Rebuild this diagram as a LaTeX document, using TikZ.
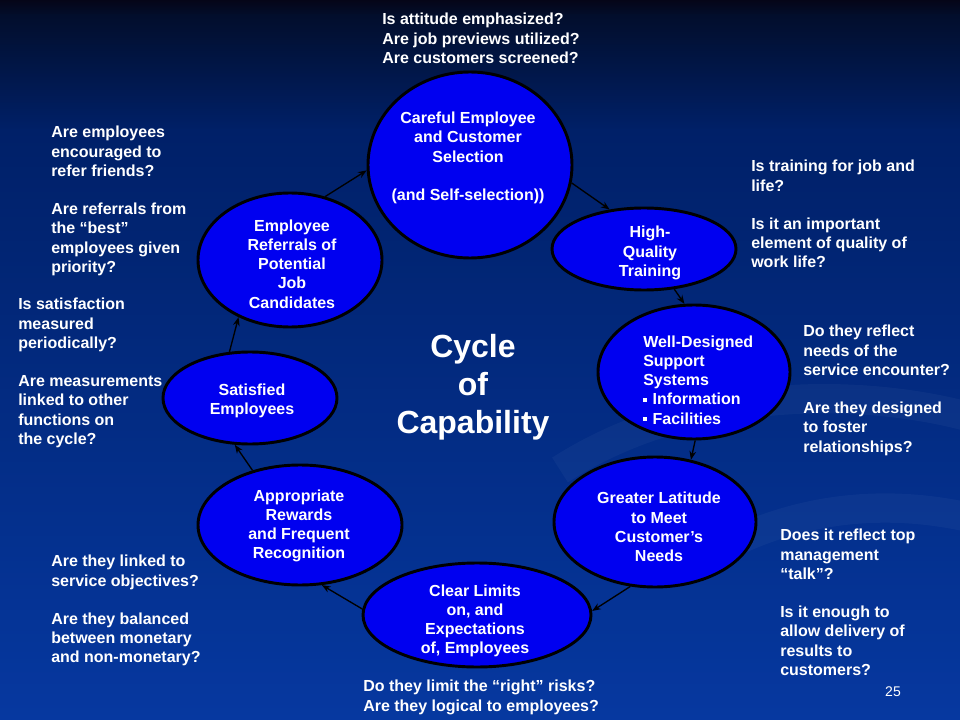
\documentclass[tikz,border=0pt]{standalone}
\usepackage{fontspec}
\setmainfont{Liberation Sans}
\usetikzlibrary{shapes.geometric,arrows.meta}
\definecolor{ellblue}{RGB}{0,0,240}
\definecolor{bga}{RGB}{5,5,24}
\definecolor{bgb}{RGB}{2,14,44}
\definecolor{bgc}{RGB}{0,32,104}
\definecolor{bgd}{RGB}{6,56,160}
\newcommand\sqbul{\raisebox{2.4pt}{\rule{3pt}{3pt}}\hspace{4pt}}
\begin{document}
\begin{tikzpicture}[x=0.75pt,y=-0.75pt,
  ell/.style={ellipse, draw=black, line width=2.2pt, fill=ellblue, inner sep=0pt},
  esize/.style 2 args={minimum width=#1*0.75pt, minimum height=#2*0.75pt},
  etext/.style={text=white, font=\fontsize{12}{14.4}\selectfont\bfseries, align=center, inner sep=0pt},
  qtext/.style={text=white, font=\fontsize{12}{14.4}\selectfont\bfseries, align=left, inner sep=0pt, anchor=north west},
  conn/.style={line width=1pt, black, -{Stealth[length=6.5pt,width=5pt]}},
  swoosh/.style={white, opacity=0.035, line width=22pt}]
\useasboundingbox (0,0) rectangle (960,720);
% background
\shade[top color=bga, bottom color=bgb] (0,0) rectangle (960,16);
\shade[top color=bgb, bottom color=bgc] (0,15) rectangle (960,131);
\shade[top color=bgc, bottom color=bgd] (0,130) rectangle (960,720);
\begin{scope}
\clip (0,0) rectangle (960,720);
\draw[swoosh] (560,470) .. controls (700,380) and (880,390) .. (980,420);
\draw[swoosh] (700,560) .. controls (800,500) and (900,500) .. (980,520);
\end{scope}
% ellipses
\node[ell, esize={204}{186}] (ce) at (470,165) {};
\node[ell, esize={184}{82}]  (hq) at (644,249) {};
\node[ell, esize={192}{134}] (wd) at (694,372) {};
\node[ell, esize={202}{130}] (gl) at (655,522) {};
\node[ell, esize={228}{104}] (cl) at (477,615) {};
\node[ell, esize={204}{120}] (ar) at (300,525) {};
\node[ell, esize={174}{92}]  (se) at (250,398) {};
\node[ell, esize={184}{134}] (er) at (290,260) {};
% ellipse texts
\node[etext] (ce-t) at (468,158) {Careful Employee\\and Customer\\Selection\\[14.4pt](and Self-selection))};
\node[etext] (hq-t) at (650,253) {High-\\Quality\\Training};
\node[etext, align=left, anchor=west] (wd-t) at (643,380) {Well-Designed\\Support\\Systems\\\sqbul Information\\\sqbul Facilities};
\node[etext] (gl-t) at (659,527) {Greater Latitude\\to Meet\\Customer’s\\Needs};
\node[etext] (cl-t) at (475,621) {Clear Limits\\on, and\\Expectations\\of, Employees};
\node[etext] (ar-t) at (299,526) {Appropriate\\Rewards\\and Frequent\\Recognition};
\node[etext] (se-t) at (252,401) {Satisfied\\Employees};
\node[etext] (er-t) at (292,264) {Employee\\Referrals of\\Potential\\Job\\Candidates};
% centre title
\node[text=white, font=\fontsize{24}{28.5}\selectfont\bfseries, align=center, inner sep=0pt] (cyc) at (473,387) {Cycle\\of\\Capability};
% connectors
\draw[conn] (er.61) -- (ce.183);
\draw[conn] (ce.-10) -- (hq.131);
\draw[conn] (hq.-53) -- (wd.98);
\draw[conn] (wd.-89) -- (gl.60);
\draw[conn] (gl.249) -- (cl.2);
\draw[conn] (cl.177) -- (ar.-70);
\draw[conn] (ar.131) -- (se.252);
\draw[conn] (se.114) -- (er.228);
% questions
\node[qtext] (q-top) at (382,13) {Is attitude emphasized?\\Are job previews utilized?\\Are customers screened?};
\node[qtext] (q-r1) at (751,160) {Is training for job and\\life?\\[14.4pt]Is it an important\\element of quality of\\work life?};
\node[qtext] (q-r2) at (803,325) {Do they reflect\\needs of the\\service encounter?\\[14.4pt]Are they designed\\to foster\\relationships?};
\node[qtext] (q-r3) at (780,529) {Does it reflect top\\management\\“talk”?\\[14.4pt]Is it enough to\\allow delivery of\\results to\\customers?};
\node[qtext] (q-bot) at (363,680) {Do they limit the “right” risks?\\Are they logical to employees?};
\node[qtext] (q-l1) at (51,126) {Are employees\\encouraged to\\refer friends?\\[14.4pt]Are referrals from\\the “best”\\employees given\\priority?};
\node[qtext] (q-l2) at (18,298) {Is satisfaction\\measured\\periodically?\\[14.4pt]Are measurements\\linked to other\\functions on\\the cycle?};
\node[qtext] (q-l3) at (51,555) {Are they linked to\\service objectives?\\[14.4pt]Are they balanced\\between monetary\\and non-monetary?};
% slide number
\node[text=white, font=\fontsize{10.5}{12}\selectfont, inner sep=0pt] (num) at (893,692) {25};
\end{tikzpicture}
\end{document}
